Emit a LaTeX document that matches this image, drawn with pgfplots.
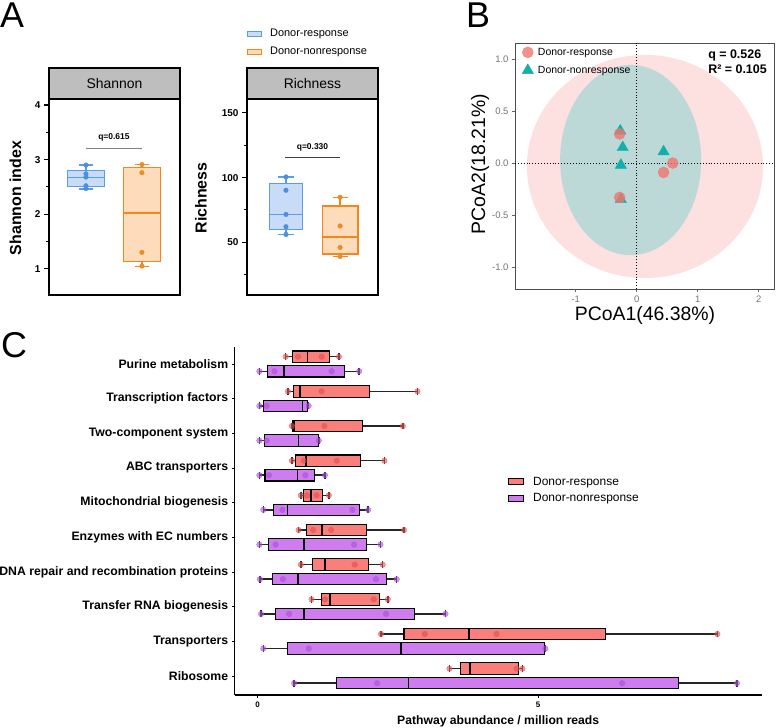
\documentclass[border=0pt]{standalone}
\usepackage{fontspec}
\setmainfont{Liberation Sans}
\usepackage{pgfplots}
\pgfplotsset{compat=1.18}
\usepgfplotslibrary{statistics}
\definecolor{aBlueF}{HTML}{C8DCF8}
\definecolor{aBlueE}{HTML}{5A9CE8}
\definecolor{aBlueP}{HTML}{4A8FE0}
\definecolor{aOrF}{HTML}{FDDCBC}
\definecolor{aOrE}{HTML}{F5861E}
\definecolor{aOrP}{HTML}{F08A24}
\definecolor{stripgray}{HTML}{BEBEBE}
\definecolor{bPink}{HTML}{FDE0E0}
\definecolor{bTeal}{HTML}{BCD8D7}
\definecolor{bRed}{HTML}{F0766D}
\definecolor{bTri}{HTML}{13AFAF}
\definecolor{cRed}{HTML}{FA7E79}
\definecolor{cPur}{HTML}{CF7CEE}
\definecolor{cRedP}{HTML}{E05050}
\definecolor{cPurP}{HTML}{A850D8}
\pgfplotsset{
  Abox/.style={scale only axis, anchor=south west, width=131bp, height=196bp,
    xtick=\empty, ytick pos=left, tick align=outside,
    major tick length=5bp, minor tick length=3bp,
    every tick/.style={black, line width=1.1pt},
    axis line style={line width=1.2pt},
    /pgf/number format/assume math mode=true,
    yticklabel style={font=\bfseries\fontsize{10}{12}\selectfont},
    ylabel style={font=\bfseries\fontsize{16}{18}\selectfont, anchor=center},
    clip=false},
  Cred/.style={draw=black, fill=cRed, line width=1.1pt, /pgfplots/boxplot/every whisker/.style={line width=1.5pt, draw=black!85}},
  Cpur/.style={draw=black, fill=cPur, line width=1.1pt, /pgfplots/boxplot/every whisker/.style={line width=1.5pt, draw=black!85}},
  Credp/.style={only marks, mark=*, mark size=2.8bp, color=cRedP, opacity=0.6},
  Cpurp/.style={only marks, mark=*, mark size=2.8bp, color=cPurP, opacity=0.6},
}
\begin{document}
\begin{tikzpicture}[x=1bp,y=1bp]
\path[use as bounding box] (0,0) rectangle (776,728);
\node[anchor=base west, inner sep=0pt, font=\fontsize{36}{36}\selectfont] at (0,700) {A};
\node[anchor=base west, inner sep=0pt, font=\fontsize{36}{36}\selectfont] at (466,700) {B};
\node[anchor=base west, inner sep=0pt, font=\fontsize{36}{36}\selectfont] at (1,370) {C};

% ---------- A: Shannon
\begin{axis}[Abox, at={(49bp,433bp)},
  xmin=0.34, xmax=2.68, ymin=0.52, ymax=4.11,
  ytick={1,2,3,4}, minor ytick={1.5,2.5,3.5},
  ylabel={Shannon index}, ylabel style={at={(axis description cs:-0.256,0.495)}}]
\addplot[boxplot prepared={draw direction=y, draw position=1, lower whisker=2.46, lower quartile=2.51, median=2.67, upper quartile=2.80, upper whisker=2.90, box extend=0.66, whisker extend=0.26}, draw=aBlueE, fill=aBlueF, line width=1.3pt] coordinates {};
\addplot[boxplot prepared={draw direction=y, draw position=2, lower whisker=1.04, lower quartile=1.13, median=2.02, upper quartile=2.85, upper whisker=2.91, box extend=0.66, whisker extend=0.26}, draw=aOrE, fill=aOrF, line width=1.3pt] coordinates {};
\addplot[only marks, mark=*, mark size=2.3bp, color=aBlueP] coordinates {(1,2.90) (1,2.74) (1,2.68) (1,2.52) (1,2.47)};
\addplot[only marks, mark=*, mark size=2.3bp, color=aOrP] coordinates {(2,2.91) (2,2.76) (2,1.30) (2,1.05)};
\draw[color=gray, line width=1.1pt] (axis cs:1,3.20) -- (axis cs:2,3.20);
\node[font=\bfseries\fontsize{8.5}{10}\selectfont] at (axis cs:1.5,3.41) {q=0.615};
\end{axis}
\draw[fill=stripgray, line width=1.2pt] (49,629) rectangle (180,660);
\node[font=\fontsize{14}{16}\selectfont] at (114.5,644.5) {Shannon};

% ---------- A: Richness
\begin{axis}[Abox, at={(247bp,433bp)},
  xmin=0.28, xmax=2.70, ymin=9.2, ymax=160.8,
  ytick={50,100,150}, minor ytick={25,75,125},
  ylabel={Richness}, ylabel style={at={(axis description cs:-0.351,0.495)}},
  legend style={at={(axis description cs:0,1.357)}, anchor=north west, draw=none, fill=none,
    inner sep=0pt, nodes={inner sep=0pt}, font=\fontsize{11}{13}\selectfont,
    row sep=8.8bp, column sep=8bp, cells={anchor=west}}]
\addlegendimage{legend image code/.code={\draw[fill=aBlueF, draw=aBlueE, line width=0.9pt] (0bp,-2.5bp) rectangle (14bp,2.5bp);}}
\addlegendentry{Donor-response}
\addlegendimage{legend image code/.code={\draw[fill=aOrF, draw=aOrE, line width=0.9pt] (0bp,-2.5bp) rectangle (14bp,2.5bp);}}
\addlegendentry{Donor-nonresponse}
\addplot[forget plot, boxplot prepared={draw direction=y, draw position=1, lower whisker=56, lower quartile=60, median=71.5, upper quartile=95.2, upper whisker=100.5, box extend=0.62, whisker extend=0.28}, draw=aBlueE, fill=aBlueF, line width=1.3pt] coordinates {};
\addplot[forget plot, boxplot prepared={draw direction=y, draw position=2, lower whisker=39, lower quartile=40.8, median=54.1, upper quartile=78, upper whisker=84.8, box extend=0.66, whisker extend=0.28}, draw=aOrE, fill=aOrF, line width=1.3pt] coordinates {};
\addplot[forget plot, only marks, mark=*, mark size=2.3bp, color=aBlueP] coordinates {(1,100.5) (1,90.2) (1,71.5) (1,62) (1,56)};
\addplot[forget plot, only marks, mark=*, mark size=2.3bp, color=aOrP] coordinates {(2,84.8) (2,62.6) (2,46) (2,39)};
\draw[color=black!75, line width=1.1pt] (axis cs:0.98,115.6) -- (axis cs:2.0,115.6);
\node[font=\bfseries\fontsize{8.5}{10}\selectfont] at (axis cs:1.49,123.3) {q=0.330};
\end{axis}
\draw[fill=stripgray, line width=1.2pt] (247,629) rectangle (378,660);
\node[font=\fontsize{14}{16}\selectfont] at (312.5,644.5) {Richness};

% ---------- B: PCoA
\begin{axis}[at={(515bp,439bp)}, anchor=south west, scale only axis, width=259bp, height=246bp,
  xmin=-1.995, xmax=2.25, ymin=-1.21, ymax=1.154,
  xtick={-1,0,1,2}, ytick={-1,-0.5,0,0.5,1},
  xtick pos=bottom, ytick pos=left, tick align=outside, major tick length=3bp,
  every tick/.style={black!60, line width=0.6pt},
  axis line style={black!70, line width=0.7pt},
  /pgf/number format/assume math mode=true,
  ticklabel style={font=\fontsize{9.5}{11}\selectfont, color=black!55},
  yticklabel style={/pgf/number format/.cd, fixed, fixed zerofill, precision=1},
  xlabel={PCoA1(46.38\%)}, ylabel={PCoA2(18.21\%)},
  label style={font=\fontsize{19.5}{22}\selectfont},
  xlabel style={at={(axis description cs:0.502,-0.106)}, anchor=center},
  ylabel style={at={(axis description cs:-0.135,0.508)}, anchor=center},
  legend style={at={(axis description cs:0.027,0.985)}, anchor=north west, draw=none, fill=none,
    inner sep=0pt, nodes={inner sep=0pt}, font=\fontsize{10.5}{12}\selectfont,
    row sep=6bp, column sep=4.5bp, cells={anchor=west}}]
\addlegendimage{only marks, mark=*, mark size=5.5bp, color=bRed, opacity=0.8}
\addlegendentry{Donor-response}
\addlegendimage{only marks, mark=triangle*, mark size=6.5bp, color=bTri}
\addlegendentry{Donor-nonresponse}
\fill[bPink] (axis cs:0.135,-0.033) ellipse [x radius=1.935, y radius=1.072];
\fill[bTeal] (axis cs:-0.10,0.029) ellipse [x radius=1.156, y radius=0.914];
\draw[dotted, line width=0.9pt] (axis cs:0,-1.21) -- (axis cs:0,1.154);
\draw[dotted, line width=0.9pt] (axis cs:-1.995,0) -- (axis cs:2.25,0);
\addplot[forget plot, only marks, mark=triangle*, mark size=6.5bp, color=bTri] coordinates {(-0.27,0.31) (-0.23,0.15) (-0.26,-0.02) (-0.26,-0.35) (0.44,0.11)};
\addplot[forget plot, only marks, mark=*, mark size=5.5bp, color=bRed, opacity=0.8] coordinates {(-0.28,0.28) (-0.28,-0.33) (0.44,-0.09) (0.59,0.0)};
\node[anchor=base west, inner sep=0pt, font=\bfseries\fontsize{12.5}{14}\selectfont] at (axis cs:1.169,1.007) {q = 0.526};
\node[anchor=base west, inner sep=0pt, font=\bfseries\fontsize{12.5}{14}\selectfont] at (axis cs:1.169,0.856) {R² = 0.105};
\end{axis}

% ---------- C: pathways
\begin{axis}[at={(234.7bp,33bp)}, anchor=south west, scale only axis, width=527bp, height=348bp,
  xmin=-0.41, xmax=8.99, ymin=0.45, ymax=10.49,
  axis x line*=bottom, axis y line*=left, axis line style={line width=1.1pt, -},
  xtick={0,5}, ytick={1,2,3,4,5,6,7,8,9,10},
  yticklabels={Ribosome, Transporters, Transfer RNA biogenesis, DNA repair and recombination proteins, Enzymes with EC numbers, Mitochondrial biogenesis, ABC transporters, Two-component system, Transcription factors, Purine metabolism},
  tick align=outside, major tick length=3bp, every tick/.style={black, line width=0.8pt},
  /pgf/number format/assume math mode=true,
  yticklabel style={font=\bfseries\fontsize{12.3}{14}\selectfont},
  xticklabel style={font=\bfseries\fontsize{8}{10}\selectfont},
  xlabel={Pathway abundance / million reads},
  xlabel style={font=\bfseries\fontsize{12.2}{14}\selectfont, at={(axis description cs:0.50,-0.077)}, anchor=center},
  boxplot/every median/.style={line width=1.6pt, black},
  legend style={at={(axis description cs:0.5186,0.627)}, anchor=north west, draw=none, fill=none,
    inner sep=0pt, nodes={inner sep=0pt}, font=\fontsize{12}{14}\selectfont,
    row sep=7bp, column sep=9bp, cells={anchor=west}}]
\addlegendimage{legend image code/.code={\draw[fill=cRed, draw=black, line width=1pt] (0bp,-3bp) rectangle (15bp,3bp);}}
\addlegendentry{Donor-response}
\addlegendimage{legend image code/.code={\draw[fill=cPur, draw=black, line width=1pt] (0bp,-3bp) rectangle (15bp,3bp);}}
\addlegendentry{Donor-nonresponse}
% Purine metabolism (10)
\addplot[forget plot, Cred, boxplot prepared={draw position=10.21, lower whisker=0.50, lower quartile=0.62, median=0.89, upper quartile=1.28, upper whisker=1.45, box extend=0.33, whisker extend=0.2}] coordinates {};
\addplot[forget plot, Cpur, boxplot prepared={draw position=9.79, lower whisker=0.03, lower quartile=0.18, median=0.47, upper quartile=1.55, upper whisker=1.81, box extend=0.33, whisker extend=0.2}] coordinates {};
% Transcription factors (9)
\addplot[forget plot, Cred, boxplot prepared={draw position=9.21, lower whisker=0.54, lower quartile=0.64, median=0.75, upper quartile=1.99, upper whisker=2.85, box extend=0.33, whisker extend=0.2}] coordinates {};
\addplot[forget plot, Cpur, boxplot prepared={draw position=8.79, lower whisker=0.03, lower quartile=0.11, median=0.80, upper quartile=0.89, upper whisker=0.91, box extend=0.33, whisker extend=0.2}] coordinates {};
% Two-component system (8)
\addplot[forget plot, Cred, boxplot prepared={draw position=8.21, lower whisker=0.61, lower quartile=0.63, median=0.65, upper quartile=1.87, upper whisker=2.59, box extend=0.33, whisker extend=0.2}] coordinates {};
\addplot[forget plot, Cpur, boxplot prepared={draw position=7.79, lower whisker=0.03, lower quartile=0.12, median=0.73, upper quartile=1.08, upper whisker=1.09, box extend=0.33, whisker extend=0.2}] coordinates {};
% ABC transporters (7)
\addplot[forget plot, Cred, boxplot prepared={draw position=7.21, lower whisker=0.61, lower quartile=0.67, median=0.86, upper quartile=1.83, upper whisker=2.26, box extend=0.33, whisker extend=0.2}] coordinates {};
\addplot[forget plot, Cpur, boxplot prepared={draw position=6.79, lower whisker=0.03, lower quartile=0.13, median=0.71, upper quartile=1.01, upper whisker=1.20, box extend=0.33, whisker extend=0.2}] coordinates {};
% Mitochondrial biogenesis (6)
\addplot[forget plot, Cred, boxplot prepared={draw position=6.21, lower whisker=0.77, lower quartile=0.82, median=0.95, upper quartile=1.15, upper whisker=1.27, box extend=0.33, whisker extend=0.2}] coordinates {};
\addplot[forget plot, Cpur, boxplot prepared={draw position=5.79, lower whisker=0.10, lower quartile=0.28, median=0.53, upper quartile=1.81, upper whisker=1.97, box extend=0.33, whisker extend=0.2}] coordinates {};
% Enzymes with EC numbers (5)
\addplot[forget plot, Cred, boxplot prepared={draw position=5.21, lower whisker=0.73, lower quartile=0.87, median=1.15, upper quartile=1.94, upper whisker=2.61, box extend=0.33, whisker extend=0.2}] coordinates {};
\addplot[forget plot, Cpur, boxplot prepared={draw position=4.79, lower whisker=0.03, lower quartile=0.19, median=0.83, upper quartile=1.94, upper whisker=2.19, box extend=0.33, whisker extend=0.2}] coordinates {};
% DNA repair (4)
\addplot[forget plot, Cred, boxplot prepared={draw position=4.21, lower whisker=0.77, lower quartile=0.98, median=1.20, upper quartile=1.98, upper whisker=2.23, box extend=0.33, whisker extend=0.2}] coordinates {};
\addplot[forget plot, Cpur, boxplot prepared={draw position=3.79, lower whisker=0.04, lower quartile=0.26, median=0.72, upper quartile=2.29, upper whisker=2.48, box extend=0.33, whisker extend=0.2}] coordinates {};
% Transfer RNA biogenesis (3)
\addplot[forget plot, Cred, boxplot prepared={draw position=3.21, lower whisker=0.96, lower quartile=1.14, median=1.29, upper quartile=2.18, upper whisker=2.32, box extend=0.33, whisker extend=0.2}] coordinates {};
\addplot[forget plot, Cpur, boxplot prepared={draw position=2.79, lower whisker=0.06, lower quartile=0.32, median=0.83, upper quartile=2.80, upper whisker=3.35, box extend=0.33, whisker extend=0.2}] coordinates {};
% Transporters (2)
\addplot[forget plot, Cred, boxplot prepared={draw position=2.21, lower whisker=2.20, lower quartile=2.61, median=3.77, upper quartile=6.21, upper whisker=8.20, box extend=0.33, whisker extend=0.2}] coordinates {};
\addplot[forget plot, Cpur, boxplot prepared={draw position=1.79, lower whisker=0.10, lower quartile=0.53, median=2.56, upper quartile=5.11, upper whisker=5.13, box extend=0.33, whisker extend=0.2}] coordinates {};
% Ribosome (1)
\addplot[forget plot, Cred, boxplot prepared={draw position=1.21, lower whisker=3.42, lower quartile=3.62, median=3.79, upper quartile=4.65, upper whisker=4.72, box extend=0.33, whisker extend=0.2}] coordinates {};
\addplot[forget plot, Cpur, boxplot prepared={draw position=0.79, lower whisker=0.65, lower quartile=1.40, median=2.69, upper quartile=7.51, upper whisker=8.55, box extend=0.33, whisker extend=0.2}] coordinates {};
% points
\addplot[forget plot, Credp] coordinates {
 (0.50,10.21) (0.72,10.21) (1.14,10.21) (1.45,10.21)
 (0.54,9.21) (1.14,9.21) (2.85,9.21)
 (0.61,8.21) (1.19,8.21) (2.59,8.21)
 (0.61,7.21) (0.82,7.21) (1.41,7.21) (2.26,7.21)
 (0.77,6.21) (0.88,6.21) (1.05,6.21) (1.27,6.21)
 (0.73,5.21) (0.99,5.21) (1.31,5.21) (2.61,5.21)
 (0.77,4.21) (1.73,4.21) (2.23,4.21)
 (0.96,3.21) (1.20,3.21) (2.07,3.21) (2.32,3.21)
 (2.20,2.21) (2.98,2.21) (4.26,2.21) (8.20,2.21)
 (3.42,1.21) (4.62,1.21) (4.72,1.21)};
\addplot[forget plot, Cpurp] coordinates {
 (0.03,9.79) (0.30,9.79) (1.32,9.79) (1.81,9.79)
 (0.03,8.79) (0.16,8.79) (0.91,8.79)
 (0.03,7.79) (0.16,7.79) (1.09,7.79)
 (0.03,6.79) (0.20,6.79) (0.85,6.79) (1.20,6.79)
 (0.10,5.79) (0.44,5.79) (1.69,5.79) (1.97,5.79)
 (0.03,4.79) (0.32,4.79) (1.72,4.79) (2.19,4.79)
 (0.04,3.79) (0.45,3.79) (2.11,3.79) (2.48,3.79)
 (0.06,2.79) (0.56,2.79) (2.29,2.79) (3.35,2.79)
 (0.10,1.79) (0.91,1.79) (5.13,1.79)
 (0.65,0.79) (2.13,0.79) (6.50,0.79) (8.55,0.79)};
\end{axis}
\end{tikzpicture}
\end{document}
